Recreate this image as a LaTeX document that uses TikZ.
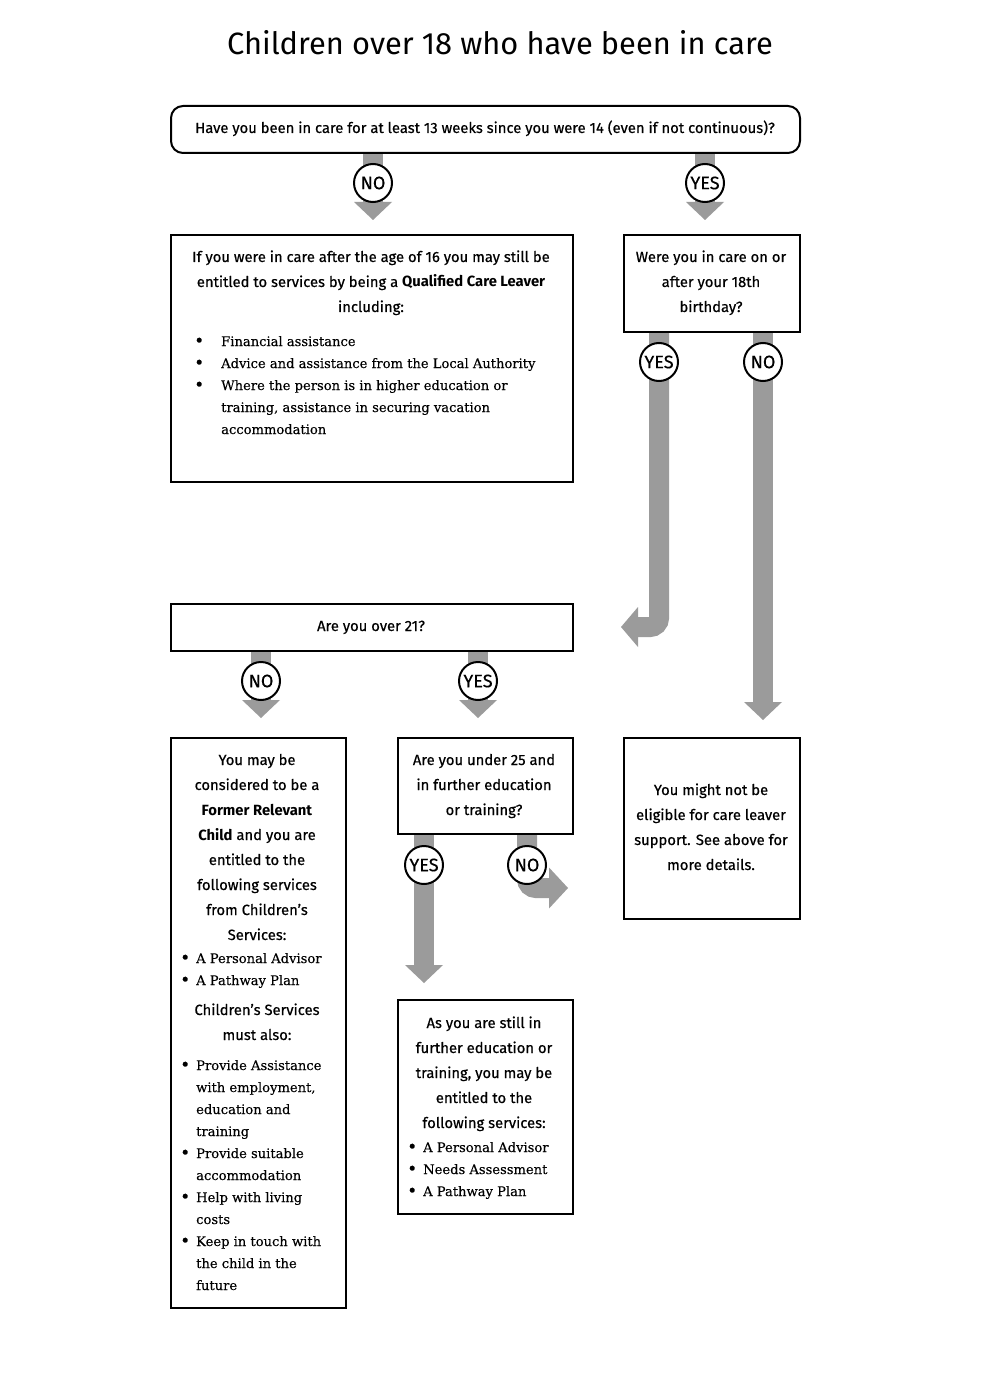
\documentclass[tikz,border=0pt]{standalone}
\usepackage{fontspec}
\setmainfont{Fira Sans}[UprightFeatures={FakeBold=0.5}]
\newfontfamily\titlefont{Fira Sans}
\newfontfamily\serif{DejaVu Serif}[FakeBold=0.25]
\usetikzlibrary{arrows.meta,backgrounds}
\definecolor{arrowgray}{RGB}{155,155,155}
\newcommand\bul[1]{\makebox[#1][l]{\hspace*{-1pt}\raisebox{-0.5pt}{\fontsize{17}{17}\selectfont•}}}
\tikzset{
  box/.style={draw=black, line width=2pt, fill=white, inner sep=0pt, anchor=north west},
  circ/.style={circle, draw=black, line width=2pt, fill=white, minimum size=38pt, inner sep=0pt, font=\fontsize{18}{18}\selectfont},
  flow/.style={draw=arrowgray, line width=20pt, -{Triangle[width=38pt,length=18pt,line width=0pt]}},
  hd/.style={font=\fontsize{14.8}{25}\selectfont, align=center, inner sep=0pt, anchor=base},
  bl/.style={font=\serif\fontsize{13.1}{22}\selectfont, align=left, inner sep=0pt, anchor=base west},
}
\begin{document}
\begin{tikzpicture}[x=1pt,y=-1pt]
\useasboundingbox (0,0) rectangle (987,1396);
% title
\node[inner sep=0pt, anchor=base, font=\titlefont\fontsize{30.8}{31}\selectfont] (title) at (500,55) {Children over 18 who have been in care};
% boxes
\node[box, rounded corners=12pt, minimum width=629pt, minimum height=47pt] (q1) at (170,105) {};
\node[box, minimum width=402pt, minimum height=247pt] (b2) at (170,234) {};
\node[box, minimum width=176pt, minimum height=97pt] (b3) at (623,234) {};
\node[box, minimum width=402pt, minimum height=47pt] (q3) at (170,603) {};
\node[box, minimum width=175pt, minimum height=570pt] (b5) at (170,737) {};
\node[box, minimum width=175pt, minimum height=96pt] (q4) at (397,737) {};
\node[box, minimum width=176pt, minimum height=181pt] (b6) at (623,737) {};
\node[box, minimum width=175pt, minimum height=214pt] (b7) at (397,999) {};
% texts (base anchor = last line)
\node[hd] (q1t) at (485,133) {Have you been in care for at least 13 weeks since you were 14 (even if not continuous)?};
\node[hd] (b2t) at (371,312) {If you were in care after the age of 16 you may still be\\entitled to services by being a \textbf{Qualified Care Leaver}\\including:};
\node[bl] (b2l) at (195,434) {\bul{26pt}Financial assistance\\\bul{26pt}Advice and assistance from the Local Authority\\\bul{26pt}Where the person is in higher education or\\\hspace*{26pt}training, assistance in securing vacation\\\hspace*{26pt}accommodation};
\node[hd] (b3t) at (711,312) {Were you in care on or\\after your 18th\\birthday?};
\node[hd] (q3t) at (371,631) {Are you over 21?};
\node[hd] (b5t) at (257,940) {You may be\\considered to be a\\\textbf{Former Relevant}\\\textbf{Child} and you are\\entitled to the\\following services\\from Children’s\\Services:};
\node[bl] (b5l) at (181,985) {\bul{15pt}A Personal Advisor\\\bul{15pt}A Pathway Plan};
\node[hd] (b5m) at (257,1040) {Children’s Services\\must also:};
\node[bl] (b5k) at (181,1290) {\bul{15pt}Provide Assistance\\\hspace*{15pt}with employment,\\\hspace*{15pt}education and\\\hspace*{15pt}training\\\bul{15pt}Provide suitable\\\hspace*{15pt}accommodation\\\bul{15pt}Help with living\\\hspace*{15pt}costs\\\bul{15pt}Keep in touch with\\\hspace*{15pt}the child in the\\\hspace*{15pt}future};
\node[hd] (q4t) at (484,815) {Are you under 25 and\\in further education\\or training?};
\node[hd] (b6t) at (711,870) {You might not be\\eligible for care leaver\\support. See above for\\more details.};
\node[hd] (b7t) at (484,1128) {As you are still in\\further education or\\training, you may be\\entitled to the\\following services:};
\node[bl] (b7l) at (408,1196) {\bul{15pt}A Personal Advisor\\\bul{15pt}Needs Assessment\\\bul{15pt}A Pathway Plan};
% circles
\node[circ] (n1) at (373,183) {NO};
\node[circ] (y1) at (705,183) {YES};
\node[circ] (y2) at (659,362) {YES};
\node[circ] (n2) at (763,362) {NO};
\node[circ] (n3) at (261,681) {NO};
\node[circ] (y3) at (478,681) {YES};
\node[circ] (y4) at (424,865) {YES};
\node[circ] (n4) at (527,865) {NO};
\coordinate (t1) at (621,627);
\coordinate (t2) at (568,888);
% arrows
\begin{scope}[on background layer]
\fill[white] (0,0) rectangle (987,1396);
\draw[flow, shorten >=14pt] (q1.south -| n1) -- (b2.north -| n1);
\draw[flow, shorten >=14pt] (q1.south -| y1) -- (b3.north -| y1);
\draw[flow, rounded corners=9pt, -{Triangle[width=40pt,length=17pt,line width=0pt]}] (b3.south -| y2) |- (t1);
\draw[flow, shorten >=17pt] (b3.south -| n2) -- (b6.north -| n2);
\draw[flow, shorten >=19pt] (q3.south -| n3) -- (b5.north -| n3);
\draw[flow, shorten >=19pt] (q3.south -| y3) -- (q4.north -| y3);
\draw[flow, shorten >=16pt] (q4.south -| y4) -- (b7.north -| y4);
\draw[flow, rounded corners=9pt, -{Triangle[width=41pt,length=19pt,line width=0pt]}] (q4.south -| n4) |- (t2);
\end{scope}
\end{tikzpicture}
\end{document}
